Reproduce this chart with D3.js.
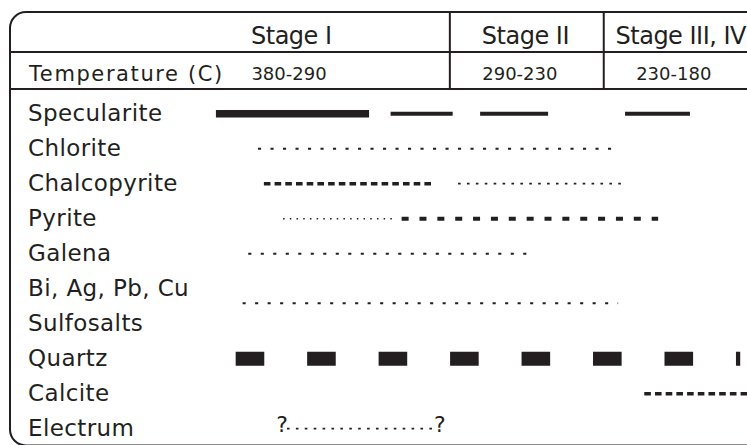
<!DOCTYPE html>
<html><head><meta charset="utf-8">
<script src="https://cdn.jsdelivr.net/npm/d3@7"></script>
<style>html,body{margin:0;padding:0;background:#fff;overflow:hidden}</style>
</head><body>
<svg id="chart" width="747" height="445"></svg>
<script>
// ---------- data ----------
const stages = ["Stage I", "Stage II", "Stage III, IV"];
const stageRanges = [[380, 290], [290, 230], [230, 180]];
const tempLabels = ["380-290", "290-230", "230-180"];
const headerTitle = "Temperature (C)";
const minerals = ["Specularite", "Chlorite", "Chalcopyrite", "Pyrite", "Galena",
  "Bi, Ag, Pb, Cu\nSulfosalts", "Quartz", "Calcite", "Electrum"];
// segments: [from °C, to °C, abundance class]
const specularite  = [[381.2, 321.5, "abundant"], [313.1, 288.9, "common"], [278.2, 251.7, "common"], [221.7, 196.4, "common"]];
const chlorite     = [[364.8, 226.4, "minor"]];
const chalcopyrite = [[362.5, 297.0, "moderate"], [286.8, 222.9, "rare"]];
const pyrite       = [[355.0, 310.6, "trace"], [308.8, 208.8, "significant"]];
const galena       = [[368.6, 259.9, "minor"]];
const sulfosalts   = [[370.8, 224.4, "minor"]];
const quartz       = [[373.5, 176.8, "massive"]];
const calcite      = [[214.2, 168.0, "moderate"]];
const electrum     = [[353.5, 296.6, "rare"]];
const uncertain    = ["Electrum"];
const segments = [specularite, chlorite, chalcopyrite, pyrite, galena, sulfosalts, quartz, calcite, electrum];

(function () {
// ---------- styles ----------
const ink = "#231f20";
const styles = {
  abundant:    {w: 7.5, dash: null},
  common:      {w: 4,   dash: null},
  significant: {w: 4,   dash: "7 10.86"},
  moderate:    {w: 3.4, dash: "6.6 4.1"},
  minor:       {w: 2,   dash: "3.1 9.4"},
  rare:        {w: 1.8, dash: "2.6 6.3"},
  trace:       {w: 1.5, dash: "1.5 5.2"},
  massive:     {w: 14,  dash: "28.6 42.87"}
};
const W = 747, H = 445;
const font = "'DejaVu Sans', sans-serif";
const weight = "normal";

const svg = d3.select("#chart");
const x = d3.scaleLinear().domain([380, 180]).range([219, 732]);

// frame
const frameTop = 12, row1 = 52, row2 = 89, frameLeft = 10;
svg.append("rect").attr("x", frameLeft).attr("y", frameTop).attr("width", 820).attr("height", 433.5)
  .attr("rx", 16).attr("ry", 16).attr("fill", "none").attr("stroke", ink).attr("stroke-width", 2);
[row1, row2].forEach(y => svg.append("line").attr("x1", frameLeft).attr("x2", W + 5)
  .attr("y1", y).attr("y2", y).attr("stroke", ink).attr("stroke-width", 2));
stageRanges.slice(1).forEach(r => svg.append("line").attr("x1", x(r[0])).attr("x2", x(r[0]))
  .attr("y1", frameTop).attr("y2", row2).attr("stroke", ink).attr("stroke-width", 2));

// stage headers
svg.selectAll("text.stage").data(stages).join("text").attr("class", "stage")
  .attr("font-family", font).attr("font-weight", weight).attr("font-size", 24)
  .attr("letter-spacing", -0.5).attr("fill", ink)
  .attr("y", 43.5).text(d => d)
  .attr("x", function(d, i) {
    const w = this.getComputedTextLength();
    return Math.min(x(stageRanges[i][0]) + 32, W - w - 1);
  });

svg.append("text").attr("x", 29).attr("y", 81).attr("font-family", font).attr("font-weight", weight)
  .attr("font-size", 21).attr("letter-spacing", 1.6).attr("fill", ink).text(headerTitle);
svg.selectAll("text.temp").data(tempLabels).join("text").attr("class", "temp")
  .attr("font-family", font).attr("font-weight", weight).attr("font-size", 18).attr("fill", ink)
  .attr("text-anchor", "middle").attr("y", 80)
  .attr("x", (d, i) => x(stageRanges[i][0]) + 70).text(d => d);

// rows
const lines = [];
minerals.forEach((m, i) => m.split("\n").forEach((t, j) => lines.push({id: i + "-" + j, t, i})));
const yLine = d3.scalePoint().domain(lines.map(l => l.id)).range([121.2, 436.2]);

svg.selectAll("text.label").data(lines).join("text").attr("class", "label")
  .attr("x", 28).attr("y", d => yLine(d.id)).attr("font-family", font).attr("font-weight", weight)
  .attr("font-size", 23).attr("letter-spacing", 0.4).attr("fill", ink).text(d => d.t);

const markY = i => {
  const n = minerals[i].split("\n").length;
  return yLine(i + "-0") + (n > 1 ? 7 : -7.5);
};

const segData = [];
segments.forEach((segs, i) => segs.forEach(s => segData.push({i, a: s[0], b: s[1], k: s[2]})));

svg.selectAll("line.seg").data(segData).join("line").attr("class", "seg")
  .attr("x1", d => x(d.a)).attr("x2", d => x(d.b))
  .attr("y1", d => markY(d.i)).attr("y2", d => markY(d.i))
  .attr("stroke", ink).attr("stroke-width", d => styles[d.k].w)
  .attr("stroke-dasharray", d => styles[d.k].dash)
  .attr("stroke-linecap", "butt");

// uncertainty marks
segData.filter(d => uncertain.includes(minerals[d.i])).forEach(d => {
  svg.append("text").attr("x", x(d.a) + 1).attr("y", markY(d.i) + 3.5)
    .attr("text-anchor", "end").attr("font-family", font).attr("font-weight", weight)
    .attr("font-size", 22).attr("fill", ink).text("?");
  svg.append("text").attr("x", x(d.b) + 1).attr("y", markY(d.i) + 3.5)
    .attr("font-family", font).attr("font-weight", weight)
    .attr("font-size", 22).attr("fill", ink).text("?");
});
})();
</script>
</body></html>
